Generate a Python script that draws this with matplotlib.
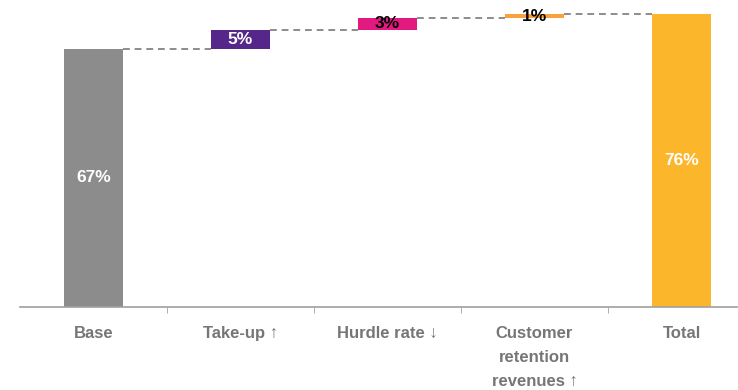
import matplotlib.pyplot as plt

plt.rcParams['font.family'] = ['Liberation Sans', 'DejaVu Sans']

categories = ['Base', 'Take-up \u2191', 'Hurdle rate \u2193', 'Customer\nretention\nrevenues \u2191', 'Total']
values = [67, 5, 3, 1, 76]
labels = ['67%', '5%', '3%', '1%', '76%']
colors = ['#8c8c8c', '#55278a', '#e2197f', '#f7a23b', '#fbb62b']
label_colors = ['white', 'white', 'black', 'black', 'white']

fig = plt.figure(figsize=(7.38, 3.9), dpi=100)
ax = fig.add_axes([0.0271, 0.213, 0.996, 0.787])

# bottoms for the waterfall
bottoms = []
running = 0
for i, v in enumerate(values):
    if i == 0 or i == len(values) - 1:
        bottoms.append(0)
        running = v if i == 0 else running
    else:
        bottoms.append(running)
        running += v

width = 0.4
x = list(range(len(categories)))
ax.bar(x, values, width, bottom=bottoms, color=colors, zorder=2)

# connectors
for i in range(len(values) - 1):
    top = bottoms[i] + values[i]
    ax.plot([i + width / 2, i + 1 - width / 2], [top, top], color='#8c8c8c',
            linestyle=(0, (3.5, 2.5)), linewidth=1.4, zorder=1)

# value labels
for i, v in enumerate(values):
    if i == 0 or i == len(values) - 1:
        y = v / 2
    else:
        y = bottoms[i] + v / 2
    ax.text(i, y, labels[i], ha='center', va='center', color=label_colors[i],
            fontsize=12.5, fontweight='bold', zorder=3)

ax.set_xlim(-0.5, 4.5)
ax.set_ylim(0, 79.7)
ax.set_xticks(x)
ax.set_xticklabels(categories, fontsize=12, color='#767676', va='top',
                   linespacing=1.75, fontweight='bold')
ax.tick_params(axis='x', which='major', length=0, pad=14)
ax.set_xticks([0.5, 1.5, 2.5, 3.5], minor=True)
ax.tick_params(axis='x', which='minor', length=4, color='#a0a0a0', direction='out')
ax.set_yticks([])
for s in ['top', 'right', 'left']:
    ax.spines[s].set_visible(False)
ax.spines['bottom'].set_color('#a0a0a0')
ax.spines['bottom'].set_linewidth(1.2)

plt.savefig('out.png', dpi=100)
